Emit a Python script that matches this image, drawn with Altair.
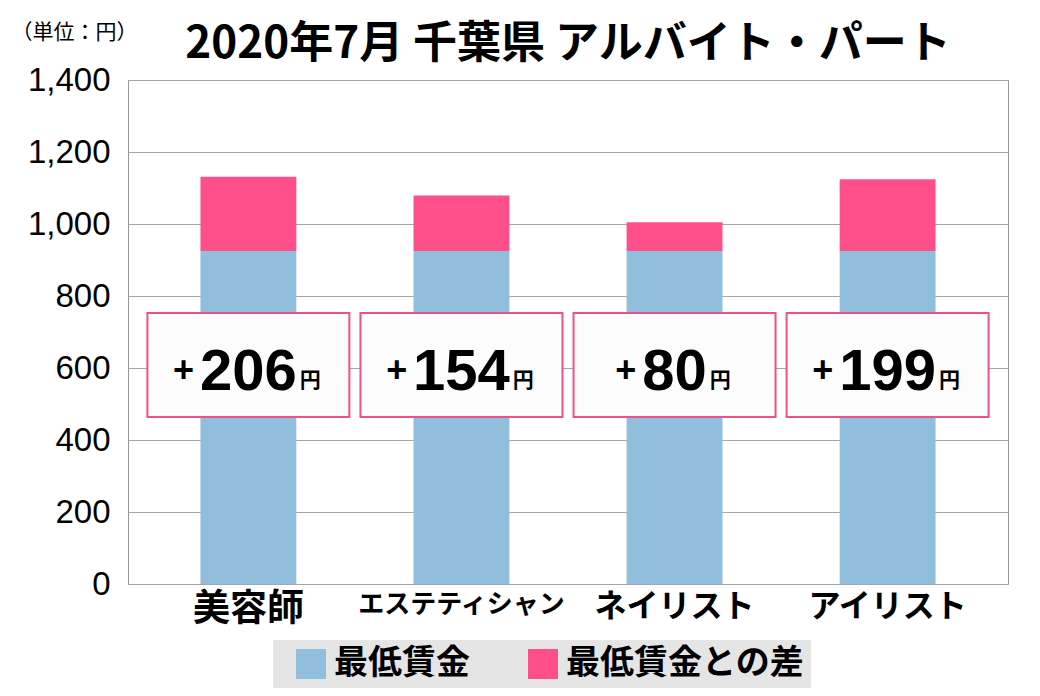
import altair as alt
import pandas as pd

# ---- data ----
jobs = ["美容師", "エステティシャン", "ネイリスト", "アイリスト"]
min_wage = [925, 925, 925, 925]
diff = [206, 154, 80, 199]
series = ["最低賃金", "最低賃金との差"]
colors = ["#92bedd", "#ff4f8b"]
y_ticks = [0, 200, 400, 600, 800, 1000, 1200, 1400]
label_box = [464, 753]   # value range covered by each label box
label_base = 539         # baseline value for the label text

rows = []
for j, m, d in zip(jobs, min_wage, diff):
    rows.append({"job": j, "series": series[0], "value": m, "ord": 0})
    rows.append({"job": j, "series": series[1], "value": d, "ord": 1})
bars_df = pd.DataFrame(rows)

lab_df = pd.DataFrame({
    "job": jobs,
    "txt": [str(d) for d in diff],
    "n": [len(str(d)) for d in diff],
    "lo": [label_box[0]] * len(jobs),
    "hi": [label_box[1]] * len(jobs),
    "base": [label_base] * len(jobs),
})

JP = "Noto Sans CJK JP"

x_label_size = {
    "condition": [
        {"test": "datum.value == 'エステティシャン'", "value": 26},
        {"test": "datum.value == '美容師'", "value": 37},
    ],
    "value": 32,
}

x = alt.X(
    "job:N", sort=jobs,
    scale=alt.Scale(paddingInner=0.55, paddingOuter=0.34),
    axis=alt.Axis(title=None, labelFontSize=x_label_size, labelFont=JP,
                  labelFontWeight="bold", labelColor="black", labelAngle=0,
                  labelPadding=7, labelBaseline="top", ticks=False,
                  domain=False, labelOverlap=False, labelLimit=400),
)

yscale = alt.Scale(domain=[0, 1400], nice=False)
yaxis = alt.Axis(values=y_ticks, format=",d", title="（単位：円）", titleAngle=0,
                 titleAlign="left", titleBaseline="top", titleX=-117, titleY=-59,
                 titleFontSize=21, titleFont=JP, titleFontWeight="normal",
                 titleColor="black",
                 labelFontSize=33, labelFont="Liberation Sans", labelColor="black",
                 labelPadding=18, ticks=False, domain=False, grid=True,
                 gridColor="#a6a6a6", gridWidth=1)

bars = alt.Chart(bars_df).mark_bar().encode(
    x=x,
    y=alt.Y("value:Q", stack="zero", scale=yscale, axis=yaxis),
    color=alt.Color("series:N", scale=alt.Scale(domain=series, range=colors),
                    legend=alt.Legend(orient="none", legendX=145, legendY=560,
                                      direction="horizontal", title=None,
                                      fillColor="#e5e5e5", padding=7,
                                      symbolType="square", symbolSize=900,
                                      symbolOffset=14,
                                      symbolStrokeWidth=0, symbolOpacity=1,
                                      labelFontSize=34, labelFont=JP,
                                      labelFontWeight="bold", labelColor="black",
                                      columnPadding=42, labelOffset=6, labelLimit=400)),
    order=alt.Order("ord:Q"),
)

boxes = alt.Chart(lab_df).mark_bar(width=202, fill="#fcfcfc", stroke="#f0508a",
                                   strokeWidth=2).encode(
    x=x,
    y=alt.Y("lo:Q", scale=yscale, axis=yaxis),
    y2="hi:Q",
)

nums = alt.Chart(lab_df).mark_text(font="Liberation Sans", fontSize=58, fontWeight="bold",
                                   baseline="alphabetic", align="center",
                                   color="black").encode(
    x=x,
    y=alt.Y("base:Q", scale=yscale, axis=yaxis),
    text="txt:N",
)

extra = []
for n in sorted(set(lab_df["n"])):
    half = 16.1 * n
    plus = alt.Chart(lab_df).mark_text(font="Liberation Sans", fontSize=36,
                                       fontWeight="bold", baseline="alphabetic",
                                       align="right", dx=-(half + 6), dy=-8,
                                       color="black").encode(
        x=x, y=alt.Y("base:Q", scale=yscale, axis=yaxis), text=alt.value("+"),
    ).transform_filter(alt.datum.n == n)
    yen = alt.Chart(lab_df).mark_text(font=JP, fontSize=21, fontWeight="bold",
                                      baseline="alphabetic", align="left",
                                      dx=half + 3, dy=-3, color="black").encode(
        x=x, y=alt.Y("base:Q", scale=yscale, axis=yaxis), text=alt.value("円"),
    ).transform_filter(alt.datum.n == n)
    extra += [plus, yen]

chart = alt.layer(bars, boxes, nums, *extra).properties(
    width=880, height=504,
    title=alt.TitleParams("2020年7月 千葉県 アルバイト・パート", fontSize=44, font=JP,
                          fontWeight="bold", anchor="middle", frame="group",
                          offset=-46, color="black"),
    padding={"left": 120, "top": 72, "right": 22, "bottom": 104},
    autosize=alt.AutoSizeParams(type="none"),
    background="white",
).configure_view(stroke="#999999", strokeWidth=1)

chart.save("out.html", embed_options={"renderer": "svg", "actions": False})
